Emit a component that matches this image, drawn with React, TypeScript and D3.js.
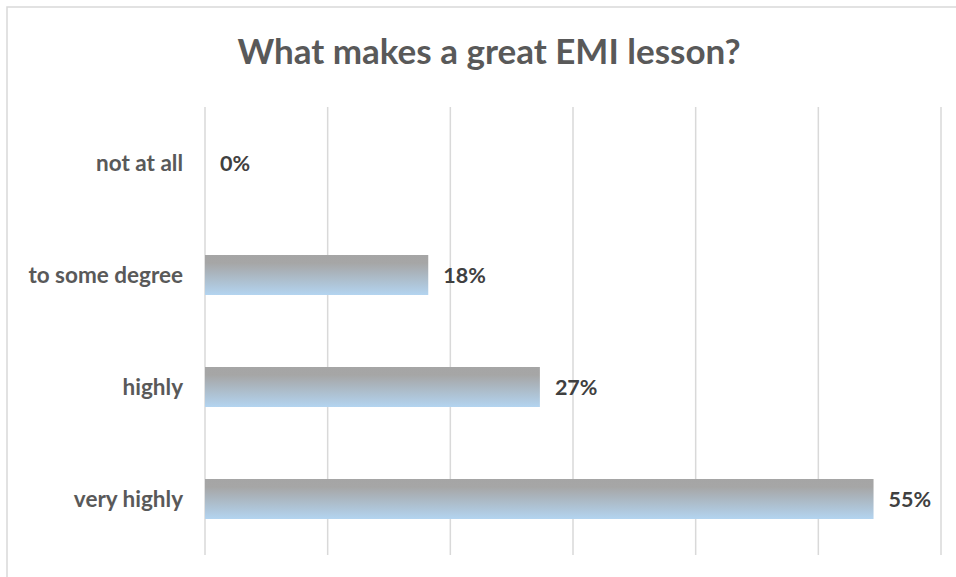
import React from "react";
import * as d3 from "d3";

const categories = ["not at all", "to some degree", "highly", "very highly"];
const values = [0, 18.2, 27.3, 54.5];
const valueLabels = ["0%", "18%", "27%", "55%"];
const xTicks = [0, 10, 20, 30, 40, 50, 60];
const title = "What makes a great EMI lesson?";

export default function App() {
  const W = 956, H = 577;
  const left = 205, right = 941, top = 107, bottom = 555;
  const x = d3.scaleLinear().domain([0, 60]).range([left, right]);
  const y = d3.scaleBand().domain(categories).range([top, bottom]).paddingInner(0.643).paddingOuter(0.3215);
  const font = "Lato, 'Open Sans', sans-serif";
  return (
    <div style={{ position: "absolute", left: 0, top: 0 }}>
      <svg width={W} height={H} style={{ display: "block" }}>
        <defs>
          <linearGradient id="barGrad" x1="0" y1="0" x2="0" y2="1">
            <stop offset="0" stopColor="#a5a5a5" />
            <stop offset="0.2" stopColor="#a6a6a6" />
            <stop offset="1" stopColor="#b3d4f0" />
          </linearGradient>
        </defs>
        <rect x={0} y={0} width={W} height={H} fill="#fff" />
        <rect x={7} y={7} width={W + 10} height={H + 10} fill="none" stroke="#d9d9d9" strokeWidth={1.5} />
        <text x={489} y={64} textAnchor="middle" fontFamily={font} fontWeight="bold" fontSize={35} fill="#595959">{title}</text>
        {xTicks.map((t) => (
          <line key={t} x1={x(t)} x2={x(t)} y1={top} y2={bottom} stroke="#d9d9d9" strokeWidth={1.5} />
        ))}
        {categories.map((c, i) => (
          <g key={c}>
            {values[i] > 0 && (
              <rect x={x(0)} y={y(c)!} width={x(values[i]) - x(0)} height={y.bandwidth()} fill="url(#barGrad)" />
            )}
            <text x={183} y={y(c)! + y.bandwidth() / 2} dy="0.35em" textAnchor="end" fontFamily={font} fontWeight="bold" fontSize={22.5} fill="#595959">{c}</text>
            <text x={x(values[i]) + 15} y={y(c)! + y.bandwidth() / 2} dy="0.35em" textAnchor="start" fontFamily={font} fontWeight="bold" fontSize={21.5} fill="#404040">{valueLabels[i]}</text>
          </g>
        ))}
      </svg>
    </div>
  );
}
